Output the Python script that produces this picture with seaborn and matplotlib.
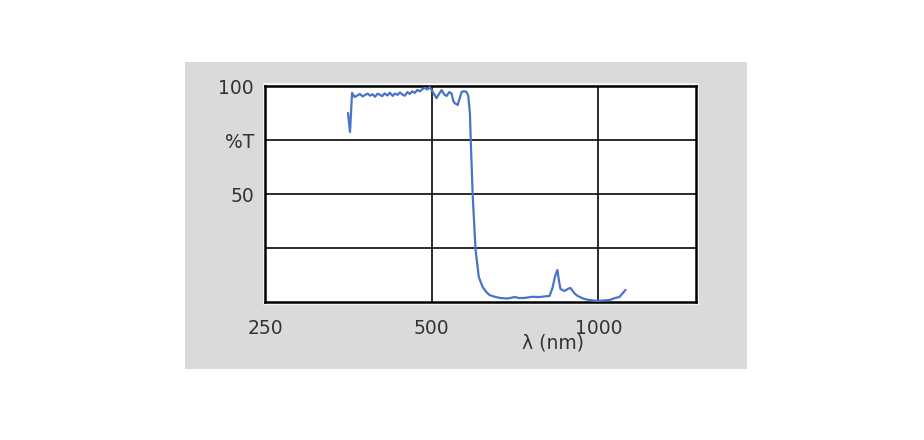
import numpy as np
import pandas as pd
import seaborn as sns
import matplotlib.pyplot as plt
from matplotlib.patches import Rectangle

sns.set_style("white")
plt.rcParams['font.family'] = ['DejaVu Sans']

# transmission curve
wavelength = [353, 356, 359, 363, 367, 371, 375, 379, 383, 387, 391, 395, 399, 403,
              407, 411, 416, 420, 425, 429, 434, 438, 443, 447, 452, 456, 461, 466,
              471, 476, 481, 486, 491, 496, 503, 510, 516, 521, 527, 532, 538, 543,
              547, 550, 557, 562, 566, 572, 578, 582, 586, 588, 593, 600, 608, 618,
              628, 636, 650, 663, 685, 706, 720, 736, 760, 783, 800, 816, 826, 835,
              843, 849, 854, 868, 880, 890, 905, 917, 940, 963, 996, 1020, 1047,
              1070, 1091, 1119]
transmission = [87.5, 78.7, 96.8, 94.9, 95.6, 96.3, 95.2, 95.8, 96.5, 95.5, 96.2, 95.0,
                96.4, 96.0, 95.3, 96.6, 95.6, 96.9, 95.4, 96.5, 95.9, 97.0, 96.0, 95.5,
                97.2, 96.3, 97.5, 96.8, 98.2, 97.5, 98.6, 99.1, 98.4, 99.5, 97.0, 94.4,
                96.5, 98.1, 96.0, 95.4, 97.2, 96.5, 93.0, 92.1, 91.2, 94.5, 97.2, 97.6,
                97.2, 95.5, 87.5, 75.0, 48.6, 24.1, 11.6, 6.9, 4.5, 3.2, 2.4, 1.9,
                1.6, 2.3, 1.8, 1.9, 2.4, 2.3, 2.6, 2.8, 6.5, 12.0, 14.8, 9.5, 6.0,
                5.1, 6.0, 6.5, 4.0, 2.8, 1.5, 0.9, 0.5, 0.7, 0.9, 1.8, 2.3, 5.6]

x_ticks = [250, 500, 1000]
x_tick_labels = ['250', '500', '1000']
y_ticks = [25, 50, 75, 100]
y_tick_labels = ['', '50', '%T', '100']

df = pd.DataFrame({'wl': wavelength, 'T': transmission})

W, H = 924, 440
fig = plt.figure(figsize=(W / 100, H / 100), dpi=100)
fig.patch.set_facecolor('white')

# grey panel behind the chart
fig.patches.append(Rectangle((185 / W, 1 - 369 / H), (747 - 185) / W, (369 - 62) / H,
                             transform=fig.transFigure, facecolor='#dadada',
                             edgecolor='none', zorder=-2))
fig.patches.append(Rectangle((263 / W, 1 - 305 / H), (699 - 263) / W, (305 - 83) / H,
                             transform=fig.transFigure, facecolor='#f4f4f4',
                             edgecolor='none', zorder=-1))

ax = fig.add_axes([265 / W, 1 - 302 / H, (696 - 265) / W, (302 - 86) / H])
ax.set_facecolor('white')
ax.set_zorder(1)

sns.lineplot(data=df, x='wl', y='T', ax=ax, color='#4a72c6', linewidth=1.6,
             estimator=None, zorder=3)

ax.set_xscale('log')
ax.set_xlim(250, 1500)
ax.set_ylim(0, 100)
ax.minorticks_off()
ax.set_xticks(x_ticks)
ax.set_xticklabels(x_tick_labels)
ax.set_yticks(y_ticks)
ax.set_yticklabels(y_tick_labels)
ax.tick_params(length=0, labelsize=13.5, labelcolor='#333333')
ax.tick_params(axis='x', pad=12)
ax.tick_params(axis='y', pad=8)
ax.set_xlabel('')
ax.set_ylabel('')

ax.grid(True, color='#1a1a1a', linewidth=1.3)
ax.set_axisbelow(True)
for s in ax.spines.values():
    s.set_visible(True)
    s.set_color('black')
    s.set_linewidth(1.8)

ax.text(0.668, -0.19, 'λ (nm)', transform=ax.transAxes, ha='center', va='center',
        fontsize=13.5, color='#333333')

fig.savefig('out.png', dpi=100)
